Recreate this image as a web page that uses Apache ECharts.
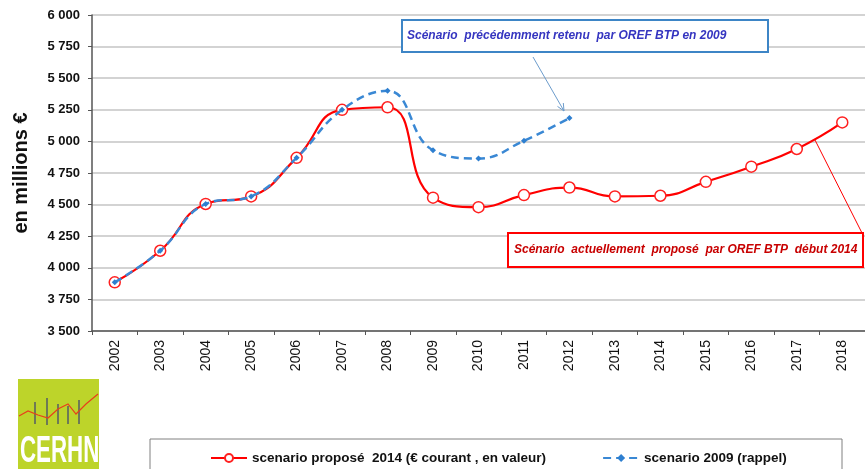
<!DOCTYPE html>
<html><head><meta charset="utf-8">
<script src="https://cdn.jsdelivr.net/npm/echarts@6/dist/echarts.min.js"></script>
<style>html,body{margin:0;padding:0;background:#fff}#c{width:865px;height:469px}</style>
</head><body><div id="c"></div>
<script>
const years = ['2002','2003','2004','2005','2006','2007','2008','2009','2010','2011','2012','2013','2014','2015','2016','2017','2018'];
const scenario2014 = [3885,4135,4505,4565,4870,5250,5270,4555,4480,4575,4635,4565,4570,4680,4800,4940,5150];
const scenario2009 = [3885,4135,4505,4565,4870,5250,5400,4930,4865,5005,5185,null,null,null,null,null,null];
const seriesNames = ['scenario proposé  2014 (€ courant , en valeur)', 'scenario 2009 (rappel)'];
const yMin = 3500, yMax = 6000, yStep = 250;
const yAxisTitle = 'en millions €';
const noteOld = 'Scénario  précédemment retenu  par OREF BTP en 2009';
const noteNew = 'Scénario  actuellement  proposé  par OREF BTP  début 2014';

const chart = echarts.init(document.getElementById('c'), null, {renderer: 'canvas'});
const fmt = v => String(v).replace(/\B(?=(\d{3})+(?!\d))/g, ' ');

chart.setOption({
  animation: false,
  backgroundColor: '#fff',
  grid: {left: 92, right: -9, top: 15, bottom: 138, containLabel: false},
  xAxis: {
    type: 'category', data: years, boundaryGap: true,
    axisLine: {lineStyle: {color: '#555', width: 1.5}},
    axisTick: {show: true, length: 4, lineStyle: {color: '#555'}},
    axisLabel: {rotate: 90, color: '#111', fontFamily: 'Liberation Sans, Arial', fontSize: 14, margin: 9}
  },
  yAxis: {
    type: 'value', min: yMin, max: yMax, interval: yStep,
    name: yAxisTitle, nameLocation: 'middle', nameRotate: 90, nameGap: 61,
    nameTextStyle: {fontFamily: 'Liberation Sans, Arial', fontWeight: 'bold', fontSize: 20, color: '#111'},
    axisLine: {show: true, lineStyle: {color: '#555', width: 1.5}},
    axisTick: {show: true, length: 4, lineStyle: {color: '#555'}},
    axisLabel: {formatter: fmt, color: '#111', fontFamily: 'Liberation Sans, Arial', fontWeight: 'bold', fontSize: 13, margin: 12},
    splitLine: {lineStyle: {color: '#c4c4c4', width: 1.5}}
  },
  legend: {
    left: 205, top: 446, itemWidth: 36, itemHeight: 10, itemGap: 56,
    textStyle: {fontFamily: 'Liberation Sans, Arial', fontWeight: 'bold', fontSize: 13.5, color: '#111'},
    data: seriesNames
  },
  series: [
    {
      name: seriesNames[0], type: 'line', data: scenario2014, smooth: 0.5,
      symbol: 'circle', symbolSize: 11,
      itemStyle: {color: '#fff', borderColor: '#ff2020', borderWidth: 1.5},
      lineStyle: {color: '#ff0000', width: 2.2}, z: 2
    },
    {
      name: seriesNames[1], type: 'line', data: scenario2009, smooth: 0.45,
      symbol: 'diamond', symbolSize: 6,
      itemStyle: {color: '#2e7fd0'},
      lineStyle: {color: '#3a88d4', width: 2.5, type: [8, 5]}, z: 3
    }
  ],
  graphic: [
    {type: 'rect', shape: {x: 402, y: 20, width: 366, height: 32}, style: {fill: '#fff', stroke: '#3d85c6', lineWidth: 2}, z: 10},
    {type: 'text', x: 407, y: 36, style: {text: noteOld, fill: '#3535c0', font: 'italic bold 12px "Liberation Sans", Arial', verticalAlign: 'middle'}, z: 11},
    {type: 'polyline', shape: {points: [[533, 57], [564, 111]]}, style: {stroke: '#6c9ccc', lineWidth: 1}, z: 10},
    {type: 'polyline', shape: {points: [[563.3, 103], [564, 111], [557.5, 106.4]]}, style: {stroke: '#6c9ccc', lineWidth: 1, fill: null}, z: 10},
    {type: 'rect', shape: {x: 508, y: 233, width: 355, height: 34}, style: {fill: '#fff', stroke: '#ff0000', lineWidth: 2}, z: 10},
    {type: 'text', x: 514, y: 250, style: {text: noteNew, fill: '#c80000', font: 'italic bold 12px "Liberation Sans", Arial', verticalAlign: 'middle'}, z: 11},
    {type: 'polyline', shape: {points: [[815, 140], [862, 233]]}, style: {stroke: '#ff0000', lineWidth: 1}, z: 10},
    {type: 'rect', shape: {x: 150, y: 439, width: 692, height: 40}, style: {fill: null, stroke: '#808080', lineWidth: 1}, z: 1},
    {type: 'rect', shape: {x: 18, y: 379, width: 81, height: 90}, style: {fill: '#bdd42a'}, z: 10},
    {type: 'rect', shape: {x: 34, y: 402, width: 2, height: 22}, style: {fill: '#6e7a55'}, z: 12},
    {type: 'rect', shape: {x: 46, y: 398, width: 2, height: 27}, style: {fill: '#6e7a55'}, z: 12},
    {type: 'rect', shape: {x: 57, y: 404, width: 2, height: 20}, style: {fill: '#6e7a55'}, z: 12},
    {type: 'rect', shape: {x: 67, y: 406, width: 2, height: 18}, style: {fill: '#6e7a55'}, z: 12},
    {type: 'rect', shape: {x: 78, y: 400, width: 2, height: 24}, style: {fill: '#6e7a55'}, z: 12},
    {type: 'polyline', shape: {points: [[19, 416], [28, 411], [38, 415], [48, 418], [58, 409], [68, 404], [76, 414], [86, 404], [98, 394]]}, style: {stroke: '#e8401a', lineWidth: 1.2, fill: null}, z: 13},
    {type: 'text', x: 20, y: 452, scaleX: 0.62, originX: 0, originY: 0, style: {text: 'CERHN', fill: '#fff', font: 'bold 36px "Liberation Sans", Arial', verticalAlign: 'middle'}, z: 13}
  ]
});
</script></body></html>
